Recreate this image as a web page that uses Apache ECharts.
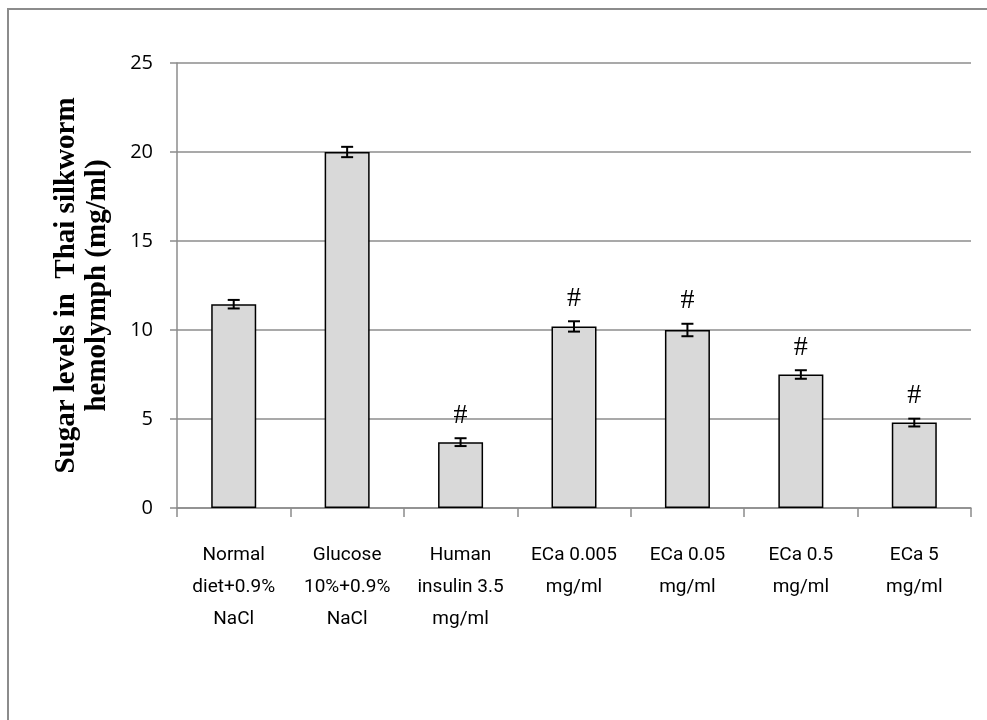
<!DOCTYPE html>
<html>
<head>
<meta charset="utf-8">
<script src="https://cdn.jsdelivr.net/npm/echarts@6/dist/echarts.min.js"></script>
<style>
html,body{margin:0;padding:0;background:#fff;}
#chart{width:987px;height:720px;}
</style>
</head>
<body>
<div id="chart"></div>
<script>
const categories = ['Normal\ndiet+0.9%\nNaCl', 'Glucose\n10%+0.9%\nNaCl', 'Human\ninsulin 3.5\nmg/ml', 'ECa 0.005\nmg/ml', 'ECa 0.05\nmg/ml', 'ECa 0.5\nmg/ml', 'ECa 5\nmg/ml'];
const values = [11.45, 20.0, 3.7, 10.2, 10.0, 7.5, 4.8];
const errors = [0.24, 0.29, 0.22, 0.29, 0.35, 0.24, 0.22];
const marks = ['', '', '#', '#', '#', '#', '#'];
const yTicks = { min: 0, max: 25, interval: 5 };

const errData = values.map((v, i) => [i, v, errors[i], marks[i]]);

const chart = echarts.init(document.getElementById('chart'), null, { renderer: 'canvas' });
chart.setOption({
  animation: false,
  backgroundColor: '#fff',
  graphic: [{
    type: 'rect',
    shape: { x: 8, y: 9, width: 1000, height: 740 },
    style: { fill: null, stroke: '#8c8c8c', lineWidth: 2 },
    silent: true
  }],
  grid: { left: 177, top: 63, right: 16, bottom: 212 },
  xAxis: {
    type: 'category',
    data: categories,
    axisLine: { lineStyle: { color: '#8c8c8c', width: 1.5 } },
    axisTick: { show: true, length: 9, lineStyle: { color: '#8c8c8c', width: 1.5 } },
    axisLabel: {
      interval: 0,
      margin: 31,
      color: '#000',
      fontFamily: 'Roboto',
      fontSize: 19,
      lineHeight: 32
    }
  },
  yAxis: {
    type: 'value',
    min: yTicks.min,
    max: yTicks.max,
    interval: yTicks.interval,
    name: 'Sugar levels in  Thai silkworm\nhemolymph (mg/ml)',
    nameLocation: 'middle',
    nameGap: 64,
    nameTextStyle: {
      fontFamily: 'Liberation Serif',
      fontWeight: 'bold',
      fontSize: 29,
      lineHeight: 31,
      color: '#000'
    },
    axisLine: { show: true, lineStyle: { color: '#8c8c8c', width: 1.5 } },
    axisTick: { show: true, length: 7, lineStyle: { color: '#8c8c8c', width: 1.5 } },
    splitLine: { lineStyle: { color: '#8c8c8c', width: 1.5 } },
    axisLabel: {
      margin: 24,
      color: '#000',
      fontFamily: 'Open Sans',
      fontSize: 20
    }
  },
  series: [{
    type: 'bar',
    data: values,
    barWidth: 45,
    itemStyle: { color: '#d9d9d9', borderColor: '#000', borderWidth: 1.5 }
  }, {
    type: 'custom',
    data: errData,
    z: 10,
    renderItem: function (params, api) {
      const i = api.value(0), v = api.value(1), e = api.value(2);
      const m = errData[params.dataIndex][3];
      const top = api.coord([i, v + e]);
      const bot = api.coord([i, v - e]);
      const hw = 6;
      const children = [
        { type: 'line', shape: { x1: top[0], y1: top[1], x2: bot[0], y2: bot[1] }, style: { stroke: '#000', lineWidth: 2 } },
        { type: 'line', shape: { x1: top[0] - hw, y1: top[1], x2: top[0] + hw, y2: top[1] }, style: { stroke: '#000', lineWidth: 2 } },
        { type: 'line', shape: { x1: bot[0] - hw, y1: bot[1], x2: bot[0] + hw, y2: bot[1] }, style: { stroke: '#000', lineWidth: 2 } }
      ];
      if (m) {
        children.push({
          type: 'text',
          style: {
            text: m, x: top[0], y: top[1] - 23,
            align: 'center', verticalAlign: 'middle',
            font: '28px "Liberation Serif"', fill: '#000'
          }
        });
      }
      return { type: 'group', children: children };
    }
  }]
});
</script>
</body>
</html>
